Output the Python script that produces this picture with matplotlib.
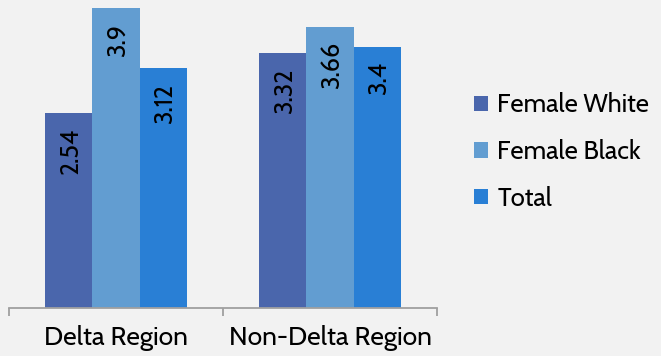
import matplotlib
matplotlib.use("Agg")
import matplotlib.pyplot as plt
import numpy as np

categories = ["Delta Region", "Non-Delta Region"]
series_names = ["Female White", "Female Black", "Total"]
female_white = [2.54, 3.32]
female_black = [3.9, 3.66]
total = [3.12, 3.4]
colors = ["#4a66ac", "#629dd1", "#297fd5"]

plt.rcParams['font.family'] = ['Cabin', 'DejaVu Sans']

W, H = 661, 356
fig = plt.figure(figsize=(W / 100, H / 100), dpi=100, facecolor="#f2f2f2")
ax = fig.add_axes([9 / W, (H - 308) / H, (437 - 9) / W, 308 / H])
ax.set_facecolor("#f2f2f2")

x = np.arange(len(categories))
bw = 0.2215
values = [female_white, female_black, total]
for i, (vals, name, c) in enumerate(zip(values, series_names, colors)):
    pos = x + (i - 1) * bw
    ax.bar(pos, vals, width=bw, color=c, label=name, zorder=2)
    for xp, v in zip(pos, vals):
        ax.annotate(f"{v:g}", xy=(xp, v), xytext=(1.5, -11), textcoords="offset points",
                    rotation=90, ha="center", va="top", fontsize=18, color="black")

ax.set_xlim(-0.5, 1.5)
ax.set_ylim(0, 3.9 * 308 / (308 - 8.3))
for s in ["top", "right", "left"]:
    ax.spines[s].set_visible(False)
ax.spines["bottom"].set_color("#a0a0a0")
ax.spines["bottom"].set_linewidth(1.3)
ax.set_yticks([])
ax.set_xticks([-0.5, 0.5, 1.5], minor=False)
ax.set_xticklabels([])
ax.tick_params(axis="x", which="major", length=6, width=1.3, color="#a0a0a0")
ax.set_xticks(x, minor=True)
ax.set_xticklabels(categories, minor=True, fontsize=19)
ax.tick_params(axis="x", which="minor", length=0, pad=12)

leg = fig.legend(loc="center left", bbox_to_anchor=(474 / W, 1 - 152 / H), frameon=False,
                 fontsize=18.5, handlelength=0.55, handleheight=0.55, handletextpad=0.35,
                 labelspacing=0.8, borderaxespad=0, borderpad=0)

fig.savefig("out.png", dpi=100, facecolor=fig.get_facecolor())
